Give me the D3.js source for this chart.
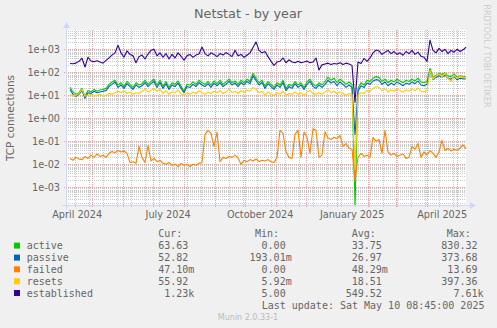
<!DOCTYPE html>
<html>
<head>
<meta charset="utf-8">
<script src="https://cdn.jsdelivr.net/npm/d3@7"></script>
<style>
  body { margin: 0; background: #f0f0f0; }
  svg { display: block; }
</style>
</head>
<body>
<svg id="chart" width="497" height="328"></svg>
<script>
// ---- data: one sample every 3 days, 9 Apr 2024 → 10 May 2025 ----
const firstSample = new Date(2024, 3, 9, 8, 45);
const stepDays = 3;

const active = [22,14,11,13,20,9,16,14,18,15,17,18,20,30,38,45,28,35,24,40,
  30,22,35,28,32,45,30,40,50,28,45,25,40,22,35,30,42,25,15,30,
  28,38,30,45,35,30,40,28,42,32,45,30,38,50,35,42,30,45,35,50,
  40,90,55,35,45,25,40,30,22,35,28,45,20,30,25,40,28,35,22,38,
  50,30,25,35,28,40,60,45,55,35,50,40,30,38,30,0,20,35,28,45,
  40,55,65,60,40,50,35,45,38,50,42,35,45,40,50,42,55,38,35,40,
  150,60,75,90,80,95,70,65,85,60,70,65,63.63];

const passive = [18,11,9,11,16,7.5,13,12,15,13,14,15,16,24,30,38,22,28,20,32,
  24,18,28,22,26,36,24,32,40,22,36,20,32,18,28,24,34,20,13,24,
  22,30,24,36,28,24,32,22,34,26,36,24,30,40,28,34,24,36,28,40,
  32,70,44,28,36,20,32,24,18,28,22,36,16,24,20,32,22,28,18,30,
  40,24,20,28,22,30,45,34,40,26,38,30,22,28,22,0.193,15,26,22,34,
  30,42,48,45,30,38,26,34,28,38,32,26,34,30,38,32,42,28,26,30,
  110,48,60,70,62,75,55,50,65,48,55,52,52.82];

const failed = [0.018,0.015,0.02,0.017,0.016,0.022,0.018,0.025,0.02,0.028,
  0.022,0.025,0.02,0.03,0.036,0.032,0.04,0.034,0.038,0.03,
  0.012,0.013,0.011,0.06,0.02,0.012,0.065,0.014,0.018,0.013,
  0.015,0.011,0.01,0.012,0.009,0.01,0.008,0.011,0.009,0.01,
  0.008,0.01,0.009,0.011,0.012,0.2,0.3,0.22,0.06,0.25,
  0.013,0.02,0.018,0.022,0.02,0.025,0.019,0.01,0.015,0.013,
  0.016,0.014,0.017,0.013,0.015,0.014,0.016,0.013,0.012,0.02,
  0.3,0.22,0.035,0.02,0.018,0.2,0.3,0.02,0.25,0.15,
  0.03,0.35,0.3,0.02,0.025,0.26,0.14,0.12,0.15,0.13,
  0.18,0.06,0.08,0.05,0.045,0.002,0.02,0.03,0.022,0.025,
  0.02,0.15,0.1,0.12,0.03,0.3,0.035,0.025,0.03,0.022,
  0.025,0.028,0.018,0.02,0.06,0.045,0.08,0.02,0.035,0.025,
  0.04,0.03,0.02,0.035,0.11,0.04,0.05,0.038,0.045,0.04,
  0.05,0.07,0.0471];

const resets = [11,9,10,12,18,9,10,11,9,10,11,9,10,12,11,13,15,13,16,12,
  14,11,13,12,15,18,14,16,20,15,18,12,16,11,14,13,17,12,10,13,
  11,14,12,16,13,11,14,12,15,13,16,12,14,18,13,15,12,16,13,17,
  15,22,18,13,15,10,14,11,10,13,11,15,10,12,11,14,11,13,10,14,
  16,12,11,13,11,14,17,13,15,12,14,12,10,12,11,0.00592,10,13,12,16,
  15,20,24,22,16,19,14,17,15,19,16,14,17,15,19,16,21,15,14,16,
  120,50,70,85,65,90,55,40,75,55,65,60,55.92];

const established = [240,235,250,300,410,170,450,310,290,320,280,250,330,420,560,700,1500,700,450,850,
  600,520,260,480,560,380,620,900,1000,520,700,450,650,380,600,420,700,500,340,520,
  600,450,560,620,1250,650,520,700,600,480,650,560,720,600,480,900,520,600,450,550,
  700,1200,2100,900,700,800,480,300,200,280,300,420,260,350,280,260,300,260,280,310,
  260,280,420,125,210,230,250,220,240,230,260,220,250,230,200,5,280,240,400,300,
  420,700,930,850,600,750,900,650,800,600,700,550,800,650,900,600,750,500,450,300,
  2500,900,700,1100,800,1000,650,900,750,1000,800,950,1230];

const seriesNames = ["active", "passive", "failed", "resets", "established"];
const curText = ["63.63", "52.82", "47.10m", "55.92", "1.23k"];
const minText = ["0.00", "193.01m", "0.00", "5.92m", "5.00"];
const avgText = ["33.75", "26.97", "48.29m", "18.51", "549.52"];
const maxText = ["830.32", "373.68", "13.69", "397.36", "7.61k"];
const yTickValues = [1e-3, 1e-2, 1e-1, 1e0, 1e1, 1e2, 1e3];
const xLabelDates = [new Date(2024, 3, 16), new Date(2024, 6, 16), new Date(2024, 9, 16),
                     new Date(2025, 0, 16), new Date(2025, 3, 16)];
const lastUpdate = "Last update: Sat May 10 08:45:00 2025";

// ---- styling ----
const colors = ["#00cc00", "#0066b3", "#ff8000", "#ffcc00", "#330099"];
const fontColor = "#666666";
const sans = "'DejaVu Sans', sans-serif";
const mono = "'DejaVu Sans Mono', monospace";
const plot = { left: 66, right: 466, top: 30, bottom: 205 };

const endTime = new Date(2025, 4, 10, 8, 45);
const startTime = d3.timeDay.offset(endTime, -400);
const seriesData = [active, passive, failed, resets, established];
const times = active.map((_, i) => d3.timeDay.offset(firstSample, i * stepDays));

const x = d3.scaleTime().domain([startTime, endTime]).range([plot.left, plot.right]);
const decadePx = 23;
const yTopLog = 3 + (49.3 - plot.top) / decadePx;
const yBotLog = 3 - (plot.bottom - 49.3) / decadePx;
const y = d3.scaleLog().domain([Math.pow(10, yBotLog), Math.pow(10, yTopLog)])
  .range([plot.bottom, plot.top]).clamp(true);

const svg = d3.select("#chart");
svg.append("rect").attr("width", 497).attr("height", 328).attr("fill", "#f0f0f0");
svg.append("rect").attr("x", plot.left).attr("y", plot.top)
  .attr("width", plot.right - plot.left).attr("height", plot.bottom - plot.top)
  .attr("fill", "#ffffff");

// ---- grid ----
const grid = svg.append("g").attr("shape-rendering", "crispEdges");
const minorY = [];
for (let e = -4; e <= 3; e++) for (let m = 2; m <= 9; m++) {
  const v = m * Math.pow(10, e);
  if (Math.log10(v) > yBotLog && Math.log10(v) < yTopLog) minorY.push(v);
}
grid.selectAll(".hmin").data(minorY).join("line")
  .attr("x1", plot.left).attr("x2", plot.right)
  .attr("y1", d => Math.round(y(d)) + 0.5).attr("y2", d => Math.round(y(d)) + 0.5)
  .attr("stroke", "#c8c8c8").attr("stroke-dasharray", "1,1");

const minorX = d3.range(0, 30).map(k => d3.timeDay.offset(new Date(2024, 3, 14), 14 * k))
  .filter(d => d > startTime && d < endTime);
grid.selectAll(".vmin").data(minorX).join("line")
  .attr("x1", d => Math.round(x(d)) + 0.5).attr("x2", d => Math.round(x(d)) + 0.5)
  .attr("y1", plot.top).attr("y2", plot.bottom + 2)
  .attr("stroke", "#c8c8c8").attr("stroke-dasharray", "1,1");

grid.selectAll(".hmaj").data(yTickValues).join("line")
  .attr("x1", plot.left - 2).attr("x2", plot.right)
  .attr("y1", d => Math.round(y(d)) + 0.5).attr("y2", d => Math.round(y(d)) + 0.5)
  .attr("stroke", "#f0a0a0").attr("stroke-dasharray", "1,1");

const majorX = d3.timeMonth.range(startTime, endTime);
grid.selectAll(".vmaj").data(majorX).join("line")
  .attr("x1", d => Math.round(x(d)) + 0.5).attr("x2", d => Math.round(x(d)) + 0.5)
  .attr("y1", plot.top).attr("y2", plot.bottom + 3)
  .attr("stroke", "#f0a0a0").attr("stroke-dasharray", "1,1");

// ---- series lines ----
svg.append("clipPath").attr("id", "plotClip").append("rect")
  .attr("x", plot.left).attr("y", plot.top)
  .attr("width", plot.right - plot.left + 1).attr("height", plot.bottom - plot.top);
const lines = svg.append("g").attr("clip-path", "url(#plotClip)");
const lineGen = d3.line().x((d, i) => x(times[i])).y(d => y(d));
seriesData.forEach((s, k) => {
  lines.append("path").datum(s).attr("d", lineGen)
    .attr("fill", "none").attr("stroke", colors[k])
    .attr("stroke-width", 1.1).attr("stroke-linejoin", "round");
});

// ---- axes ----
const axisColor = "#cfd6f8";
svg.append("line").attr("x1", plot.left - 4).attr("x2", plot.right + 4)
  .attr("y1", plot.bottom + 0.5).attr("y2", plot.bottom + 0.5)
  .attr("stroke", axisColor).attr("shape-rendering", "crispEdges");
svg.append("path").attr("d", `M${plot.right + 4},${plot.bottom - 3} L${plot.right + 10},${plot.bottom + 0.5} L${plot.right + 4},${plot.bottom + 4} Z`)
  .attr("fill", axisColor);
svg.append("line").attr("x1", plot.left + 0.5).attr("x2", plot.left + 0.5)
  .attr("y1", plot.bottom + 4).attr("y2", plot.top - 2)
  .attr("stroke", axisColor).attr("shape-rendering", "crispEdges");
svg.append("path").attr("d", `M${plot.left - 3},${plot.top - 2} L${plot.left + 0.5},${plot.top - 8} L${plot.left + 4},${plot.top - 2} Z`)
  .attr("fill", axisColor);

const fmtExp = v => v.toExponential(0).replace(/e([+-])(\d)$/, "e$10$2");
const yAxis = svg.append("g").attr("transform", `translate(${plot.left},0)`)
  .call(d3.axisLeft(y).tickValues(yTickValues).tickFormat(fmtExp).tickSize(0).tickPadding(6));
yAxis.select(".domain").remove();
yAxis.selectAll("text").attr("fill", fontColor).style("font-family", sans).style("font-size", "9.7px");

const xAxis = svg.append("g").attr("transform", `translate(0,${plot.bottom})`)
  .call(d3.axisBottom(x).tickValues(xLabelDates).tickFormat(d3.timeFormat("%B %Y")).tickSize(0).tickPadding(6.6));
xAxis.select(".domain").remove();
xAxis.selectAll("text").attr("fill", fontColor).style("font-family", sans).style("font-size", "9.7px");

// ---- titles ----
svg.append("text").attr("x", 248).attr("y", 18).attr("text-anchor", "middle")
  .attr("fill", fontColor).style("font-family", sans).style("font-size", "12.8px")
  .text("Netstat - by year");
svg.append("text").attr("transform", "translate(14,118) rotate(-90)").attr("text-anchor", "middle")
  .attr("fill", fontColor).style("font-family", sans).style("font-size", "10.5px")
  .text("TCP connections");
svg.append("text").attr("transform", "translate(484,56) rotate(90)").attr("text-anchor", "middle")
  .attr("fill", "#cccccc").style("font-family", sans).style("font-size", "8px")
  .text("RRDTOOL / TOBI OETIKER");

// ---- legend ----
const legend = svg.append("g").style("font-family", mono).style("font-size", "10px").attr("fill", fontColor);
const headerBase = 237;
[["Cur:", 158.3], ["Min:", 255], ["Avg:", 351.7], ["Max:", 446.7]].forEach(([t, px]) => {
  legend.append("text").attr("x", px).attr("y", headerBase).text(t);
});
const rowBase = [249.3, 261.3, 273, 285, 296.7];
const colEnds = [194.3, 291.7, 387.9, 483.5];
const charW = 6.02;
const colVals = [curText, minText, avgText, maxText];
seriesNames.forEach((name, k) => {
  const cy = rowBase[k] - 3.7;
  legend.append("rect").attr("x", 14).attr("y", cy - 3).attr("width", 6).attr("height", 6)
    .attr("fill", colors[k]);
  legend.append("text").attr("x", 26.7).attr("y", rowBase[k]).text(name);
  colVals.forEach((vals, c) => {
    const t = vals[k];
    const suffixed = /[a-zA-Z]$/.test(t);
    legend.append("text").attr("x", colEnds[c] - (suffixed ? 0 : charW)).attr("y", rowBase[k])
      .attr("text-anchor", "end").text(t);
  });
});
legend.append("text").attr("x", 261.7).attr("y", 308.6).text(lastUpdate);
svg.append("text").attr("x", 248).attr("y", 320).attr("text-anchor", "middle")
  .attr("fill", "#bbbbbb").style("font-family", sans).style("font-size", "8px")
  .text("Munin 2.0.33-1");
</script>
</body>
</html>
